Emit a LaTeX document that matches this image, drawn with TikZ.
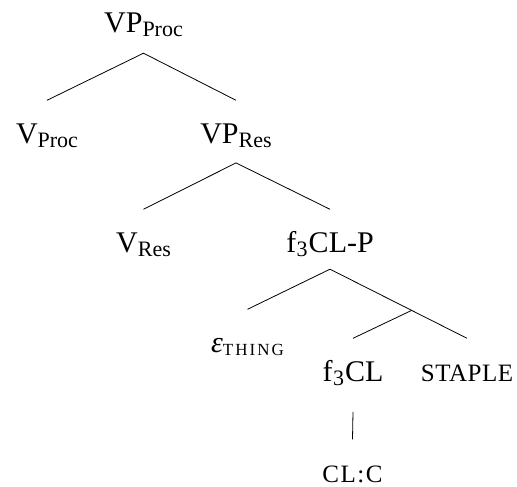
\documentclass[tikz,border=0pt]{standalone}
\usepackage{fontspec}
\setmainfont{Liberation Serif}
\usetikzlibrary{calc}
\newcommand\lsub[1]{\raisebox{-4pt}{\fontsize{22}{22}\selectfont #1}}
\newcommand\nsub[1]{\kern0.5pt\raisebox{-4.5pt}{\fontsize{22}{22}\selectfont #1}\kern1pt}
\newcommand\tsub[1]{\raisebox{-3.5pt}{\fontsize{17}{17}\selectfont\addfontfeatures{LetterSpace=12} #1}}
\newcommand\tsc[2]{{\fontsize{25}{25}\selectfont\addfontfeatures{LetterSpace=#1}#2}}
\tikzset{
  tn/.style={anchor=base, inner sep=0pt, text height=42.5pt, text depth=19pt,
    font=\fontsize{30}{30}\selectfont},
  br/.style={draw, line width=0.8pt}
}
\begin{document}
\begin{tikzpicture}[x=1pt, y=-1pt]
\useasboundingbox (0,0) rectangle (517,487);
\node[tn, text depth=20pt] (vpproc) at (143.5,33) {VP\lsub{Proc}};
\node[tn] (vproc) at (47,143) {V\lsub{Proc}};
\node[tn, text depth=19.7pt] (vpres) at (236,143) {VP\lsub{Res}};
\node[tn] (vres) at (143.5,252) {V\lsub{Res}};
\node[tn, text depth=17pt] (fclp) at (330,252) {f\nsub{3}CL-P};
\node[tn] (eps) at (247.5,352) {\textit{ε}\tsub{THING}};
\node[tn, text depth=30.7pt] (fcl) at (353,381) {f\nsub{3}CL};
\node[tn] (staple) at (467,381) {\tsc{2}{STAPLE}};
\node[tn] (clc) at (352.5,482) {\tsc{6}{CL:C}};
\coordinate (mid) at ($(fclp.south)!0.596!(staple.north)$);
\draw[br] (vproc.north) -- (vpproc.south) -- (vpres.north);
\draw[br] (vres.north) -- (vpres.south) -- (fclp.north);
\draw[br] (eps.north) -- (fclp.south) -- (mid) -- (staple.north);
\draw[br] (mid) -- (fcl.north);
\draw[br] (fcl.south) -- (clc.north);
\end{tikzpicture}
\end{document}
